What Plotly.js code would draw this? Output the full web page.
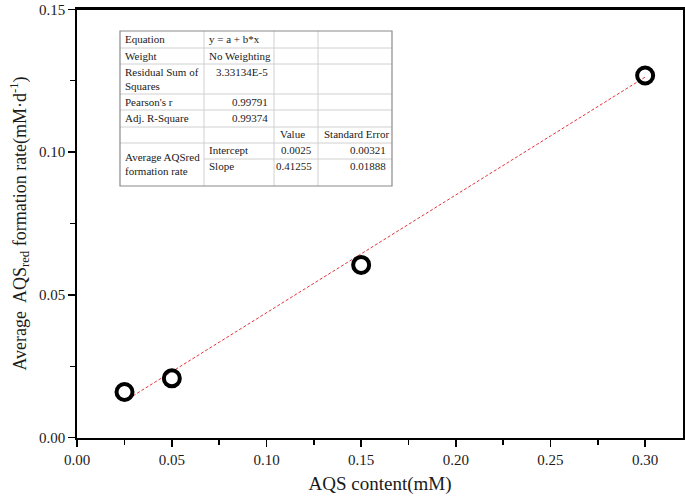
<!DOCTYPE html>
<html>
<head>
<meta charset="utf-8">
<script src="https://cdn.plot.ly/plotly-3.0.1.min.js"></script>
<style>html,body{margin:0;padding:0;background:#fff;}#chart{width:685px;height:498px;}</style>
</head>
<body>
<div id="chart"></div>
<script>
// ---- data ----
var aqsContent = [0.025, 0.05, 0.15, 0.30];
var formationRate = [0.0160, 0.0208, 0.0605, 0.1268];
var fitIntercept = 0.0025;
var fitSlope = 0.41255;
var xTicks = [0.00, 0.05, 0.10, 0.15, 0.20, 0.25, 0.30];
var yTicks = [0.00, 0.05, 0.10, 0.15];

// table text
var tableRows = [
  ["Equation", "y = a + b*x", "", ""],
  ["Weight", "No Weighting", "", ""],
  ["Residual Sum of<br>Squares", "3.33134E-5", "", ""],
  ["Pearson's r", "0.99791", "", ""],
  ["Adj. R-Square", "0.99374", "", ""]
];
var paramHeader = ["", "", "Value", "Standard Error"];
var paramGroup = "Average AQSred<br>formation rate";
var paramNames = ["Intercept", "Slope"];
var paramValues = ["0.0025", "0.41255"];
var paramErrors = ["0.00321", "0.01888"];

var fitX = [aqsContent[0], aqsContent[aqsContent.length - 1]];
var fitY = fitX.map(function (x) { return fitIntercept + fitSlope * x; });

var W = 685, H = 498, L = 77, R = 2, T = 9, B = 60;
var pw = W - L - R, ph = H - T - B;
function px(x) { return (x - L) / pw; }
function py(y) { return (H - B - y) / ph; }

// table geometry (pixels)
var colX = [120, 204, 274, 318, 392];
var rowY = [31, 48, 64, 94, 110, 127, 143, 159, 186];

var shapes = [];
var gridCol = "#d0d0d0";
function hline(x0, x1, y, c, w) {
  shapes.push({type: "line", xref: "paper", yref: "paper", x0: px(x0), x1: px(x1), y0: py(y), y1: py(y), line: {color: c, width: w}});
}
function vline(x, y0, y1, c, w) {
  shapes.push({type: "line", xref: "paper", yref: "paper", x0: px(x), x1: px(x), y0: py(y0), y1: py(y1), line: {color: c, width: w}});
}
for (var i = 1; i <= 6; i++) hline(colX[0], colX[4], rowY[i], gridCol, 1);
hline(colX[1], colX[4], rowY[7], gridCol, 1);
for (var j = 1; j <= 3; j++) vline(colX[j], rowY[0], rowY[8], gridCol, 1);
shapes.push({type: "rect", xref: "paper", yref: "paper", x0: px(colX[0]), x1: px(colX[4]), y0: py(rowY[0]), y1: py(rowY[8]), line: {color: "#8a8a8a", width: 1.2}});
shapes.push({type: "line", xref: "paper", yref: "paper", x0: 0, x1: 1, y0: 1, y1: 1, line: {color: "#000", width: 1.8}});

var annotations = [];
var tf = {family: "Liberation Serif, Times New Roman, serif", size: 11, color: "#1a1a1a"};
function txt(text, x, y, anchor) {
  annotations.push({xref: "paper", yref: "paper", x: px(x), y: py(y), text: text, showarrow: false,
    xanchor: anchor, yanchor: "middle", font: tf, align: anchor === "right" ? "right" : "left"});
}
var rowCenters = [39.5, 56, 79, 102, 118.5];
for (var r = 0; r < tableRows.length; r++) {
  txt(tableRows[r][0], colX[0] + 3, rowCenters[r], "left");
  if (r < 2) txt(tableRows[r][1], colX[1] + 3, rowCenters[r], "left");
  else txt(tableRows[r][1], colX[2] - 4, rowCenters[r] - (r === 2 ? 7 : 0), "right");
}
txt(paramHeader[2], colX[2] + 4, 134, "left");
txt(paramHeader[3], colX[3] + 4, 134, "left");
txt(paramGroup, colX[0] + 3, 164, "left");
txt(paramNames[0], colX[1] + 3, 150, "left");
txt(paramNames[1], colX[1] + 3, 166, "left");
txt(paramValues[0], colX[3] - 4, 150, "right");
txt(paramValues[1], colX[3] - 4, 166, "right");
txt(paramErrors[0], colX[4] - 4, 150, "right");
txt(paramErrors[1], colX[4] - 4, 166, "right");

var serif = "Liberation Serif, Times New Roman, serif";
var traces = [
  {x: fitX, y: fitY, type: "scatter", mode: "lines", line: {color: "#e3333b", width: 1, dash: "3px,2px"}, hoverinfo: "skip", cliponaxis: false},
  {x: aqsContent, y: formationRate, type: "scatter", mode: "markers", cliponaxis: false,
   marker: {symbol: "circle-open", size: 16, color: "#000", line: {width: 4, color: "#000"}}}
];

var axisCommon = {
  showgrid: false, zeroline: false, showline: true, linecolor: "#000", linewidth: 1.8,
  mirror: true, ticks: "outside", ticklen: 7, tickwidth: 1.5, tickcolor: "#000",
  ticklabeloverflow: "allow",
  tickfont: {family: serif, size: 15, color: "#1a1a1a"}
};
var layout = {
  width: W, height: H,
  margin: {l: L, r: R, t: T, b: B},
  paper_bgcolor: "#fff", plot_bgcolor: "#fff",
  showlegend: false,
  xaxis: Object.assign({}, axisCommon, {
    range: [-0.0001, 0.32], tickvals: xTicks, ticktext: xTicks.map(function (v) { return v.toFixed(2); }),
    minor: {dtick: 0.025, tick0: 0, ticks: "outside", ticklen: 5, tickwidth: 1.5, tickcolor: "#000"},
    title: {text: "AQS content(mM)", font: {family: serif, size: 19, color: "#1a1a1a"}, standoff: 10}
  }),
  yaxis: Object.assign({}, axisCommon, {
    range: [-0.0001, 0.1501], tickvals: yTicks, ticktext: yTicks.map(function (v) { return v.toFixed(2); }),
    minor: {dtick: 0.025, tick0: 0, ticks: "outside", ticklen: 5, tickwidth: 1.5, tickcolor: "#000"},
    title: {text: "Average  AQS<sub>red</sub> formation rate(mM·d<sup>-1</sup>)", font: {family: serif, size: 18, color: "#1a1a1a"}, standoff: 8}
  }),
  shapes: shapes,
  annotations: annotations
};
Plotly.newPlot("chart", traces, layout, {displayModeBar: false, staticPlot: true});
</script>
</body>
</html>
